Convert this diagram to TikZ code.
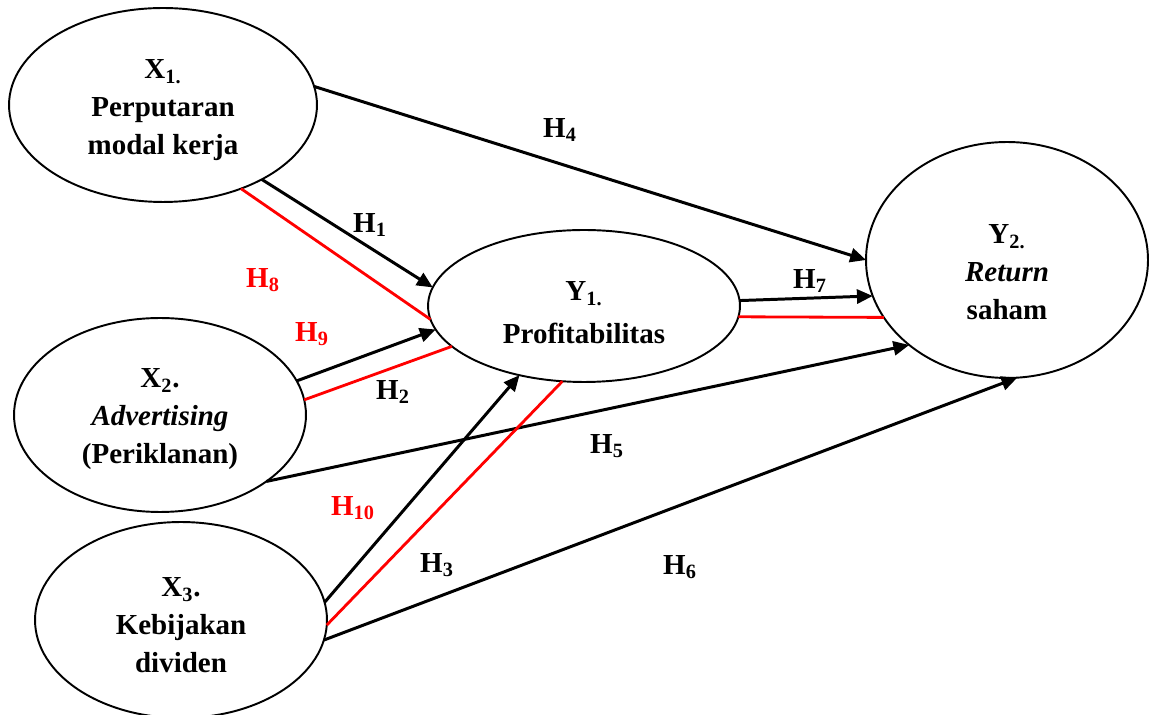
\documentclass[tikz,border=0pt]{standalone}
\usepackage{fontspec}
\setmainfont{Liberation Serif}
\usepackage{tikz}
\usetikzlibrary{shapes.geometric, arrows.meta}

\begin{document}
\begin{tikzpicture}[
    x=0.02cm, y=-0.02cm,
    var/.style={ellipse, draw=black, line width=1.1pt, inner sep=0pt, outer sep=0pt},
    txt/.style={align=center, inner sep=0pt, font=\fontsize{16.5}{21.5}\selectfont\bfseries},
    hyp/.style={inner sep=1pt, font=\fontsize{16.5}{20}\selectfont\bfseries},
    arr/.style={-{Triangle[length=9pt, width=8pt]}, line width=1.7pt, color=black},
    rline/.style={line width=1.6pt, color=red}
]
\useasboundingbox (0,0) rectangle (1149,715);
\clip (0,0) rectangle (1149,715);

% Variables
\node[var, minimum width=6.16cm, minimum height=3.88cm] (x1) at (163,105) {};
\node[var, minimum width=5.84cm, minimum height=3.88cm] (x2) at (160,415) {};
\node[var, minimum width=5.84cm, minimum height=3.92cm] (x3) at (181,620) {};
\node[var, minimum width=6.24cm, minimum height=3.04cm] (y1) at (584,306) {};
\node[var, minimum width=5.64cm, minimum height=4.72cm] (y2) at (1007,260) {};

\node[txt] (x1txt) at (163,110) {X\textsubscript{1.}\\Perputaran\\modal kerja};
\node[txt] (x2txt) at (160,419) {X\textsubscript{2}.\\\textit{Advertising}\\(Periklanan)};
\node[txt] (x3txt) at (181,625) {X\textsubscript{3}.\\Kebijakan\\dividen};
\node[txt] (y1txt) at (584,313) {Y\textsubscript{1.}\\[3pt]Profitabilitas};
\node[txt] (y2txt) at (1007,272) {Y\textsubscript{2.}\\\textit{Return}\\saham};

% Direct paths
\draw[arr] (x1.7) -- (y2.180);
\draw[arr] (x1.-37) -- (y1.173);
\draw[arr] (x2.14) -- (y1.189);
\draw[arr] (x2.-32) -- (y2.221);
\draw[arr] (x3.7) -- (y1.227);
\draw[arr] (x3.-8) -- (y2.-85);
\draw[arr] (y1.2.95) -- (y2.195.9);

% Mediation paths
\draw[rline] (x1.-47) -- (y1.-175);
\draw[rline] (x2.6) -- (y1.197);
\draw[rline] (x3.-2) -- (y1.254);
\draw[rline] (y1.-4.46) -- (y2.205.2);

% Hypotheses
\node[hyp] (h1) at (370,225) {H\textsubscript{1}};
\node[hyp] (h2) at (393,392) {H\textsubscript{2}};
\node[hyp] (h3) at (437,565) {H\textsubscript{3}};
\node[hyp] (h4) at (560,130) {H\textsubscript{4}};
\node[hyp] (h5) at (607,446) {H\textsubscript{5}};
\node[hyp] (h6) at (680,567) {H\textsubscript{6}};
\node[hyp] (h7) at (810,281) {H\textsubscript{7}};
\node[hyp, red] (h8) at (263,280) {H\textsubscript{8}};
\node[hyp, red] (h9) at (312,334) {H\textsubscript{9}};
\node[hyp, red] (h10) at (353,508) {H\textsubscript{10}};

\end{tikzpicture}
\end{document}
